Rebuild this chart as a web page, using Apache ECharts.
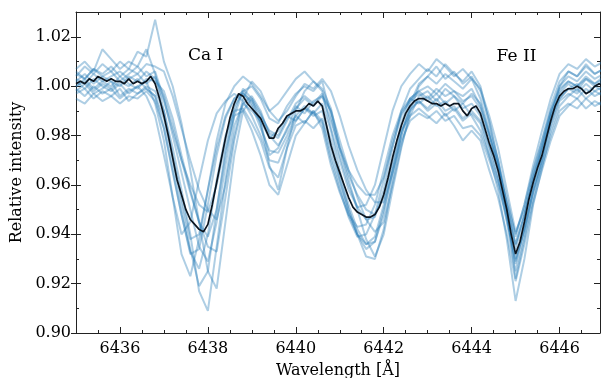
<!DOCTYPE html>
<html><head><meta charset="utf-8">
<script src="https://cdn.jsdelivr.net/npm/echarts@6/dist/echarts.min.js"></script>
<style>html,body{margin:0;padding:0;background:#fff}#c{width:601px;height:378px}</style>
</head><body><div id="c"></div>
<script>
// Wavelength sampling of individual spectra (Å)
const waveSpec = [6435.0,6435.2,6435.4,6435.6,6435.8,6436.0,6436.2,6436.4,6436.6,6436.8,6437.0,6437.2,6437.4,6437.6,6437.8,6438.0,6438.2,6438.4,6438.6,6438.8,6439.0,6439.2,6439.4,6439.6,6439.8,6440.0,6440.2,6440.4,6440.6,6440.8,6441.0,6441.2,6441.4,6441.6,6441.8,6442.0,6442.2,6442.4,6442.6,6442.8,6443.0,6443.2,6443.4,6443.6,6443.8,6444.0,6444.2,6444.4,6444.6,6444.8,6445.0,6445.2,6445.4,6445.6,6445.8,6446.0,6446.2,6446.4,6446.6,6446.8,6447.0];
// Wavelength sampling of mean spectrum (Å)
const waveMean = [6435.0,6435.1,6435.2,6435.3,6435.4,6435.5,6435.6,6435.7,6435.8,6435.9,6436.0,6436.1,6436.2,6436.3,6436.4,6436.5,6436.6,6436.7,6436.8,6436.9,6437.0,6437.1,6437.2,6437.3,6437.4,6437.5,6437.6,6437.7,6437.8,6437.9,6438.0,6438.1,6438.2,6438.3,6438.4,6438.5,6438.6,6438.7,6438.8,6438.9,6439.0,6439.1,6439.2,6439.3,6439.4,6439.5,6439.6,6439.7,6439.8,6439.9,6440.0,6440.1,6440.2,6440.3,6440.4,6440.5,6440.6,6440.7,6440.8,6440.9,6441.0,6441.1,6441.2,6441.3,6441.4,6441.5,6441.6,6441.7,6441.8,6441.9,6442.0,6442.1,6442.2,6442.3,6442.4,6442.5,6442.6,6442.7,6442.8,6442.9,6443.0,6443.1,6443.2,6443.3,6443.4,6443.5,6443.6,6443.7,6443.8,6443.9,6444.0,6444.1,6444.2,6444.3,6444.4,6444.5,6444.6,6444.7,6444.8,6444.9,6445.0,6445.1,6445.2,6445.3,6445.4,6445.5,6445.6,6445.7,6445.8,6445.9,6446.0,6446.1,6446.2,6446.3,6446.4,6446.5,6446.6,6446.7,6446.8,6446.9,6447.0];

const meanSpectrum = [1.001,1.002,1.001,1.003,1.002,1.004,1.003,1.002,1.003,1.002,
1.002,1.001,1.003,1.001,1.002,1.001,1.002,1.004,1.001,0.995,
0.988,0.980,0.971,0.962,0.956,0.950,0.946,0.944,0.942,0.941,
0.944,0.952,0.961,0.970,0.979,0.987,0.993,0.997,0.996,0.993,
0.991,0.989,0.987,0.983,0.979,0.979,0.983,0.985,0.988,0.989,
0.990,0.990,0.991,0.993,0.992,0.994,0.992,0.984,0.976,0.970,
0.965,0.960,0.955,0.951,0.949,0.948,0.947,0.947,0.948,0.951,
0.956,0.963,0.971,0.978,0.984,0.989,0.992,0.994,0.995,0.995,
0.994,0.993,0.993,0.992,0.993,0.992,0.993,0.993,0.990,0.988,
0.991,0.992,0.989,0.983,0.977,0.972,0.966,0.958,0.950,0.940,
0.932,0.937,0.945,0.954,0.961,0.967,0.972,0.979,0.986,0.992,
0.996,0.998,0.999,0.999,1.000,0.999,0.997,0.998,1.000,1.001,
1.000];

const spec01 = [0.998,1.001,0.997,0.999,1.002,0.996,0.999,0.997,1.000,0.998,0.990,0.975,0.958,0.940,0.917,0.909,0.935,0.962,0.984,0.993,0.990,0.986,0.979,0.982,0.988,0.986,0.991,0.989,0.993,0.982,0.966,0.952,0.942,0.936,0.937,0.948,0.966,0.982,0.990,0.994,0.991,0.995,0.990,0.992,0.987,0.990,0.986,0.975,0.962,0.945,0.925,0.940,0.958,0.970,0.984,0.994,0.997,0.995,0.999,0.996,0.998];
const spec02 = [1.004,1.008,1.005,1.009,1.006,1.010,1.007,1.014,1.012,1.027,1.010,1.000,0.985,0.966,0.945,0.925,0.918,0.945,0.972,0.990,0.995,0.985,0.968,0.958,0.975,0.990,0.998,1.002,0.999,0.991,0.975,0.962,0.950,0.938,0.931,0.940,0.958,0.975,0.990,1.000,1.004,1.008,1.003,1.006,1.001,1.004,0.998,0.986,0.970,0.950,0.922,0.938,0.955,0.970,0.988,1.000,1.006,1.004,1.009,1.005,1.007];
const spec03 = [1.002,0.999,1.003,1.000,0.998,1.001,0.997,1.000,1.002,0.993,0.978,0.955,0.932,0.923,0.938,0.958,0.975,0.988,0.995,0.998,0.993,0.985,0.972,0.975,0.983,0.988,0.985,0.990,0.983,0.968,0.957,0.948,0.943,0.944,0.952,0.966,0.980,0.990,0.995,0.993,0.996,0.992,0.994,0.990,0.993,0.988,0.982,0.972,0.962,0.950,0.936,0.948,0.962,0.975,0.988,0.995,0.999,1.001,0.997,1.000,0.998];
const spec04 = [0.995,0.993,0.997,0.994,0.996,0.993,0.996,0.995,0.998,0.994,0.983,0.966,0.948,0.933,0.926,0.940,0.962,0.980,0.990,0.991,0.985,0.978,0.967,0.963,0.975,0.984,0.986,0.983,0.987,0.975,0.962,0.950,0.940,0.934,0.937,0.950,0.965,0.978,0.986,0.989,0.987,0.990,0.986,0.988,0.983,0.984,0.980,0.970,0.960,0.947,0.930,0.942,0.957,0.968,0.980,0.990,0.993,0.991,0.995,0.992,0.994];
const spec05 = [1.005,1.003,1.007,1.004,1.006,1.002,1.005,1.008,1.004,1.006,0.995,0.980,0.965,0.950,0.935,0.929,0.945,0.968,0.988,0.998,1.000,0.995,0.987,0.985,0.992,0.997,1.000,0.998,1.002,0.988,0.972,0.960,0.951,0.946,0.947,0.958,0.975,0.990,0.999,1.003,1.007,1.004,1.009,1.005,1.002,1.006,1.000,0.985,0.970,0.952,0.934,0.947,0.963,0.976,0.990,1.000,1.004,1.002,1.006,1.003,1.005];
const spec06 = [1.000,1.003,0.999,1.002,1.000,1.004,1.001,0.999,1.003,1.002,0.998,0.987,0.972,0.958,0.945,0.935,0.933,0.955,0.978,0.993,0.996,0.990,0.980,0.976,0.982,0.992,0.989,0.994,0.996,0.990,0.978,0.966,0.955,0.946,0.941,0.945,0.960,0.976,0.988,0.996,0.998,0.994,0.999,0.996,0.993,0.997,0.993,0.981,0.967,0.948,0.928,0.943,0.960,0.974,0.986,0.997,1.001,0.998,1.003,1.000,1.002];
const spec07 = [1.007,1.010,1.006,1.015,1.011,1.007,1.010,1.008,1.015,1.005,0.990,0.972,0.955,0.938,0.940,0.958,0.978,0.993,1.000,1.004,1.001,0.996,0.990,0.993,0.998,1.003,1.006,1.002,0.998,0.983,0.970,0.958,0.951,0.952,0.960,0.975,0.990,1.000,1.005,1.009,1.006,1.011,1.008,1.004,1.007,1.003,0.995,0.982,0.970,0.955,0.939,0.952,0.968,0.982,0.995,1.005,1.009,1.007,1.011,1.008,1.010];
const spec08 = [0.999,0.996,1.000,0.997,0.999,0.995,0.998,1.000,0.996,0.988,0.972,0.955,0.940,0.945,0.962,0.978,0.989,0.994,0.997,0.994,0.988,0.980,0.970,0.969,0.978,0.986,0.991,0.988,0.990,0.978,0.963,0.950,0.940,0.931,0.930,0.942,0.962,0.980,0.991,0.994,0.990,0.993,0.988,0.991,0.986,0.989,0.985,0.972,0.958,0.938,0.913,0.930,0.952,0.967,0.982,0.992,0.996,0.999,0.995,0.998,0.996];
const spec09 = [1.003,1.001,1.005,1.002,1.004,1.006,1.003,1.005,1.001,1.004,0.996,0.984,0.970,0.957,0.945,0.939,0.950,0.972,0.990,0.999,0.995,0.989,0.981,0.979,0.986,0.993,0.996,0.993,0.997,0.990,0.975,0.964,0.956,0.950,0.948,0.955,0.970,0.985,0.995,0.998,1.000,0.997,1.001,0.998,0.996,0.999,0.992,0.980,0.968,0.952,0.936,0.948,0.963,0.975,0.989,0.998,1.002,1.000,1.004,1.001,1.003];
const spec10 = [0.997,0.999,0.995,0.998,0.996,0.999,0.994,0.997,0.999,0.996,0.987,0.970,0.952,0.934,0.919,0.925,0.950,0.974,0.988,0.990,0.982,0.972,0.960,0.956,0.968,0.980,0.985,0.990,0.986,0.972,0.960,0.948,0.940,0.936,0.939,0.952,0.968,0.982,0.988,0.991,0.988,0.985,0.989,0.984,0.978,0.982,0.978,0.966,0.955,0.940,0.921,0.936,0.953,0.966,0.978,0.988,0.992,0.995,0.991,0.994,0.992];
const spec11 = [1.006,1.003,1.007,1.005,1.008,1.004,1.007,1.005,1.009,1.008,1.006,0.996,0.983,0.970,0.958,0.950,0.946,0.960,0.980,0.995,1.002,0.998,0.990,0.986,0.990,0.996,1.001,0.999,1.003,0.998,0.988,0.976,0.966,0.958,0.953,0.953,0.965,0.980,0.993,1.001,1.004,1.001,1.005,1.002,0.999,1.003,0.999,0.988,0.975,0.958,0.941,0.950,0.965,0.978,0.992,1.002,1.006,1.004,1.008,1.005,1.007];
const spec12 = [1.000,1.002,0.998,1.001,0.999,1.002,1.000,1.003,0.999,0.996,0.983,0.965,0.948,0.932,0.934,0.952,0.972,0.987,0.995,0.997,0.992,0.983,0.974,0.973,0.980,0.988,0.992,0.989,0.985,0.970,0.958,0.947,0.939,0.940,0.948,0.962,0.978,0.989,0.994,0.997,0.994,0.997,0.993,0.996,0.991,0.993,0.988,0.976,0.964,0.946,0.929,0.942,0.958,0.971,0.985,0.995,0.999,0.997,1.001,0.998,1.000];
const spec13 = [1.002,1.005,1.001,1.004,1.002,1.000,1.004,1.002,1.006,1.003,0.994,0.982,0.970,0.960,0.952,0.949,0.960,0.977,0.992,0.997,0.994,0.988,0.982,0.980,0.987,0.991,0.995,0.992,0.996,0.986,0.975,0.966,0.960,0.956,0.956,0.963,0.976,0.988,0.995,0.998,0.995,0.999,0.996,0.998,0.994,0.996,0.991,0.980,0.968,0.953,0.940,0.952,0.966,0.978,0.990,0.999,1.002,1.000,1.003,1.001,1.004];

const spectra = [spec01,spec02,spec03,spec04,spec05,spec06,spec07,spec08,spec09,spec10,spec11,spec12,spec13];

// Tick values
const xMajorTicks = [6436,6438,6440,6442,6444,6446];
const xMinorTicks = [6435.5,6436.5,6437,6437.5,6438.5,6439,6439.5,6440.5,6441,6441.5,6442.5,6443,6443.5,6444.5,6445,6445.5,6446.5];
const yMajorTicks = [0.90,0.92,0.94,0.96,0.98,1.00,1.02];
const yMinorTicks = [0.91,0.93,0.95,0.97,0.99,1.01];

// Annotations
const annotationText = ['Ca I','Fe II'];
const annotationX = [6437.95,6445.02];
const annotationY = [1.0125,1.0120];

const FONT = 'DejaVu Serif';
const AX = '#222';
const X_MIN = 6435, X_MAX = 6446.92, Y_MIN = 0.90, Y_MAX = 1.0301;

function xAx(pos, ticks, len, labels, line, extra) {
  return Object.assign({
    type:'value', gridIndex:0, position:pos, min:X_MIN, max:X_MAX,
    axisLine:{show:line, onZero:false, lineStyle:{color:AX, width:1}},
    axisTick:{show:true, inside:true, length:len, customValues:ticks, lineStyle:{color:AX, width:1}},
    axisLabel:{show:labels, customValues:ticks, color:'#000', fontFamily:FONT, fontSize:16, margin:8,
      formatter:v=>String(Math.round(v))},
    splitLine:{show:false}
  }, extra||{});
}
function yAx(pos, ticks, len, labels, line, inside, extra) {
  return Object.assign({
    type:'value', gridIndex:0, position:pos, min:Y_MIN, max:Y_MAX,
    axisLine:{show:line, onZero:false, lineStyle:{color:AX, width:1}},
    axisTick:{show:true, inside:inside, length:len, customValues:ticks, lineStyle:{color:AX, width:1}},
    axisLabel:{show:labels, customValues:ticks, color:'#000', fontFamily:FONT, fontSize:16, margin:5,
      formatter:v=>v.toFixed(2)},
    splitLine:{show:false}
  }, extra||{});
}

const series = [];
spectra.forEach(s => {
  series.push({
    type:'line', xAxisIndex:0, yAxisIndex:0, data:waveSpec.map((w,i)=>[w,s[i]]),
    showSymbol:false, symbol:'none', silent:true, clip:true,
    lineStyle:{color:'#1f77b4', width:2, opacity:0.36}, z:2
  });
});
series.push({
  type:'line', xAxisIndex:0, yAxisIndex:0, data:waveMean.map((w,i)=>[w,meanSpectrum[i]]),
  showSymbol:false, symbol:'none', silent:true, clip:true,
  lineStyle:{color:'#0b1520', width:1.7, opacity:1}, z:3
});
series.push({
  type:'scatter', xAxisIndex:0, yAxisIndex:0, symbolSize:1, silent:true,
  itemStyle:{opacity:0},
  data:annotationText.map((t,i)=>({value:[annotationX[i],annotationY[i]], name:t})),
  label:{show:true, position:'inside', formatter:p=>p.name, color:'#000', opacity:1, fontFamily:FONT, fontSize:17},
  z:4
});

const chart = echarts.init(document.getElementById('c'), null, {renderer:'canvas'});
chart.setOption({
  animation:false,
  backgroundColor:'#fff',
  grid:{left:76, right:1, top:12, bottom:45, containLabel:false, outerBoundsMode:'none'},
  xAxis:[
    xAx('bottom', xMajorTicks, 6, true, true, {name:'Wavelength [Å]', nameLocation:'middle', nameGap:30,
      nameTextStyle:{color:'#000', fontFamily:FONT, fontSize:16}}),
    xAx('bottom', xMinorTicks, 3, false, false),
    xAx('top', xMajorTicks, 6, false, true),
    xAx('top', xMinorTicks, 3, false, false)
  ],
  yAxis:[
    yAx('left', yMajorTicks, 5, true, true, false, {name:'Relative intensity', nameLocation:'middle', nameGap:46,
      nameTextStyle:{color:'#000', fontFamily:FONT, fontSize:16}}),
    yAx('left', yMajorTicks, 5, false, false, true),
    yAx('left', yMinorTicks, 3, false, false, true),
    yAx('right', yMajorTicks, 6, false, true, true),
    yAx('right', yMinorTicks, 3, false, false, true)
  ],
  series:series
});
</script>
</body></html>
